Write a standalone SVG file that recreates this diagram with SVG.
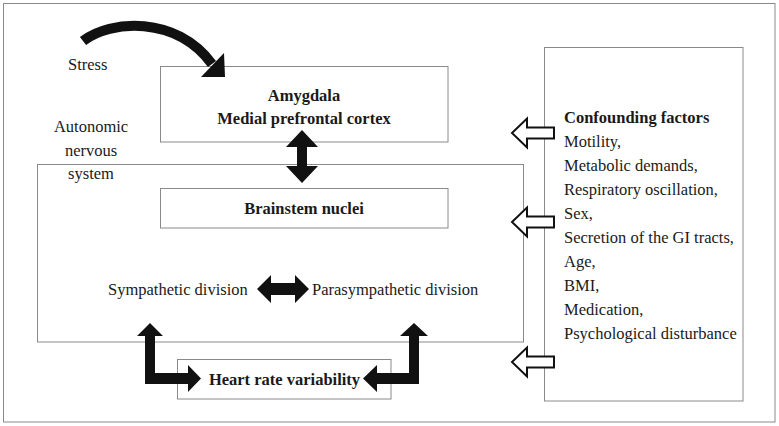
<svg xmlns="http://www.w3.org/2000/svg" width="779" height="426" viewBox="0 0 779 426">
<style>
.box{fill:#fff;stroke:#8a8a8a;stroke-width:1}
.t{font-family:"Liberation Serif","Times New Roman",serif;font-size:16.5px;fill:#1a1a1a}
.b{font-weight:bold}
.blk{fill:#111;stroke:none}
.out{fill:#fff;stroke:#111;stroke-width:2;stroke-linejoin:miter}
</style>
<rect x="3.5" y="3.5" width="771.5" height="418.5" fill="#fff" stroke="#8a8a8a" stroke-width="1"/>

<g id="ans">
<rect class="box" x="37.5" y="164.5" width="486" height="177.5"/>
<text class="t" x="91" y="132" text-anchor="middle">Autonomic</text>
<text class="t" x="91" y="156" text-anchor="middle">nervous</text>
<text class="t" x="91" y="179" text-anchor="middle">system</text>
</g>

<g id="stress">
<text class="t" x="68" y="70">Stress</text>
</g>

<g id="amygdala">
<rect class="box" x="160.5" y="66.5" width="287.5" height="75.5"/>
<text class="t b" x="304" y="101" text-anchor="middle">Amygdala</text>
<text class="t b" x="304" y="124" text-anchor="middle">Medial prefrontal cortex</text>
</g>

<g id="brainstem">
<rect class="box" x="160.5" y="188.5" width="287.5" height="39.5"/>
<text class="t b" x="304" y="214" text-anchor="middle">Brainstem nuclei</text>
</g>

<g id="sympathetic">
<text class="t" x="108" y="295">Sympathetic division</text>
</g>

<g id="parasympathetic">
<text class="t" x="312" y="295">Parasympathetic division</text>
</g>

<g id="hrv">
<rect class="box" x="177.5" y="359.5" width="213.5" height="39.5"/>
<text class="t b" x="284.5" y="385" text-anchor="middle">Heart rate variability</text>
</g>

<g id="confounding">
<rect class="box" x="544.5" y="47.5" width="198.5" height="353.5"/>
<text class="t b" x="564" y="123">Confounding factors</text>
<text class="t" x="564" y="147">Motility,</text>
<text class="t" x="564" y="171">Metabolic demands,</text>
<text class="t" x="564" y="195">Respiratory oscillation,</text>
<text class="t" x="564" y="219">Sex,</text>
<text class="t" x="564" y="243">Secretion of the GI tracts,</text>
<text class="t" x="564" y="267">Age,</text>
<text class="t" x="564" y="291">BMI,</text>
<text class="t" x="564" y="315">Medication,</text>
<text class="t" x="564" y="339">Psychological disturbance</text>
</g>

<g id="connectors">
<path d="M83,41 C110,20 176,15 212,64" fill="none" stroke="#111" stroke-width="10"/>
<polygon class="blk" points="225,77 224,53 201,77"/>
<polygon class="blk" points="302,130 318,147 307,147 307,166 318,166 302,183 286,166 297,166 297,147 286,147"/>
<polygon class="blk" points="257,289 271,275 271,283 295,283 295,275 309,289 295,303 295,295 271,295 271,303"/>
<polygon class="blk" points="150,323 163,336 155,336 155,373 188,373 188,365 201,378.5 188,392 188,384 145,384 145,336 137,336"/>
<polygon class="blk" points="414,323 428,336 419,336 419,384 377,384 377,392 363,378.5 377,365 377,373 409,373 409,336 400,336"/>
<polygon class="out" points="512,133 527,118.5 527,127.5 554,127.5 554,138.5 527,138.5 527,147.5"/>
<polygon class="out" points="512,222 527,207.5 527,216.5 554,216.5 554,227.5 527,227.5 527,236.5"/>
<polygon class="out" points="512,362 527,347.5 527,356.5 554,356.5 554,367.5 527,367.5 527,376.5"/>
</g>
</svg>
